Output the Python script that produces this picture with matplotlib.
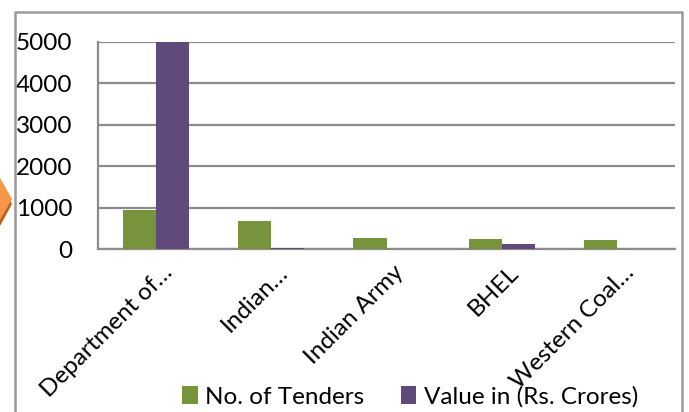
import matplotlib
matplotlib.use("Agg")
import matplotlib.pyplot as plt
import matplotlib.transforms as mtransforms
import numpy as np
from matplotlib.patches import Polygon
from matplotlib.lines import Line2D

categories = ["Department of\u2026", "Indian\u2026", "Indian Army", "BHEL", "Western Coal\u2026"]
tenders = [945, 665, 265, 248, 225]
value_crores = [5000, 30, 0, 120, 0]
series_names = ["No. of Tenders", "Value in (Rs. Crores)"]
yticks = [0, 1000, 2000, 3000, 4000, 5000]

green = "#77933C"
purple = "#604A7B"
grid_c = "#8C8C8C"

plt.rcParams['font.family'] = ['Lato', 'DejaVu Sans']
FS = 17.5

fig = plt.figure(figsize=(6.89, 4.12), dpi=100)
fig.patch.set_facecolor("white")
W, H = 689, 412
ax = fig.add_axes([98 / W, 1 - 249 / H, (675 - 98) / W, (249 - 42) / H])

x = np.arange(len(categories))
bw = 0.287
ax.bar(x - bw / 2, tenders, width=bw, color=green, label=series_names[0], zorder=3)
ax.bar(x + bw / 2, value_crores, width=bw, color=purple, label=series_names[1], zorder=3)

ax.set_xlim(-0.5, len(categories) - 0.5)
ax.set_ylim(0, 5000)
ax.set_yticks(yticks)
ax.yaxis.grid(True, color=grid_c, linewidth=1.6, zorder=0)
ax.set_axisbelow(True)
for s in ["top", "right"]:
    ax.spines[s].set_visible(False)
for s in ["left", "bottom"]:
    ax.spines[s].set_color(grid_c)
    ax.spines[s].set_linewidth(1.6)
ax.tick_params(axis="y", length=0, labelsize=FS, pad=18.5)
ax.tick_params(axis="x", length=0, pad=9)
ax.set_xticks(x)
ax.set_xticklabels(categories, rotation=45, ha="right", va="top",
                   rotation_mode="anchor", fontsize=FS)
offset = mtransforms.ScaledTranslation(6 / 100, 0, fig.dpi_scale_trans)
for lbl in ax.get_xticklabels():
    lbl.set_transform(lbl.get_transform() + offset)

leg = fig.legend(loc="center", bbox_to_anchor=(410 / W, 1 - 397 / H), ncol=2,
                 frameon=False, fontsize=FS, handlelength=0.65, handleheight=0.75,
                 handletextpad=0.3, columnspacing=1.5)

# outer chart border
fig.add_artist(Line2D([15 / W, 15 / W, 682 / W, 682 / W], [0, 1 - 12 / H, 1 - 12 / H, 0],
                      transform=fig.transFigure, color="#9A9A9A", linewidth=1.8))

# decorative orange shape at left edge
fig.add_artist(Polygon([(0, 1 - 184 / H), (12 / W, 1 - 204 / H), (0, 1 - 226 / H)],
                       closed=True, transform=fig.transFigure, facecolor="#B8601C",
                       edgecolor="none"))
fig.add_artist(Polygon([(0, 1 - 178 / H), (12 / W, 1 - 199 / H), (0, 1 - 220 / H)],
                       closed=True, transform=fig.transFigure, facecolor="#F79646",
                       edgecolor="none"))

fig.savefig("out.png", dpi=100, facecolor="white")
